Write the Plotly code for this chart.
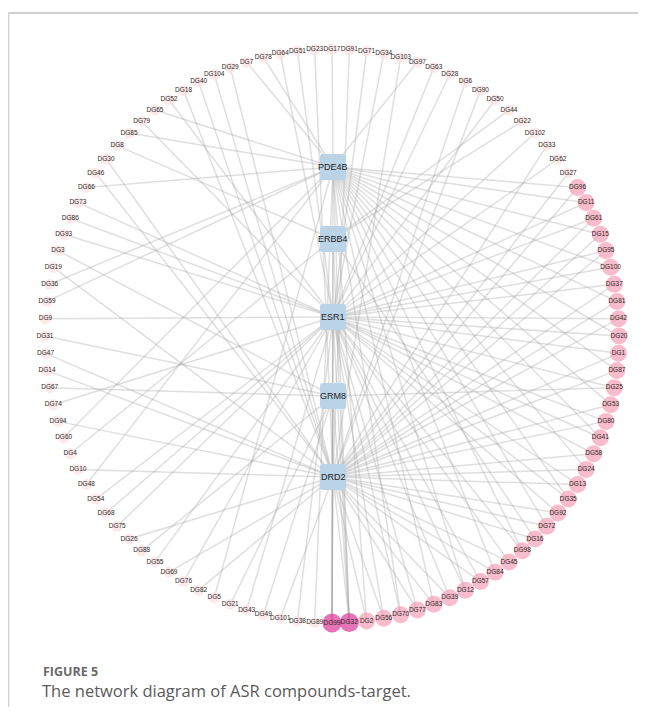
import numpy as np
import plotly.graph_objects as go

# ---------------- data ----------------
# compound nodes in circular order (counter-clockwise from the right side)
compounds = ["DG102","DG33","DG62","DG27","DG96","DG11","DG61","DG15","DG95","DG100",
             "DG37","DG81","DG42","DG20","DG1","DG87","DG25","DG53","DG80","DG41",
             "DG58","DG24","DG13","DG35","DG92","DG72","DG16","DG98","DG45","DG84",
             "DG57","DG12","DG39","DG83","DG77","DG70","DG56","DG2","DG32","DG99",
             "DG89","DG38","DG101","DG49","DG43","DG21","DG5","DG82","DG76","DG69",
             "DG55","DG88","DG26","DG75","DG68","DG54","DG48","DG10","DG4","DG60",
             "DG94","DG74","DG67","DG14","DG47","DG31","DG9","DG59","DG36","DG19",
             "DG3","DG93","DG86","DG73","DG66","DG46","DG30","DG8","DG85","DG79",
             "DG65","DG52","DG18","DG40","DG104","DG29","DG7","DG78","DG64","DG51",
             "DG23","DG17","DG91","DG71","DG34","DG103","DG97","DG63","DG28","DG6",
             "DG90","DG50","DG44","DG22"]

targets = ["PDE4B", "ERBB4", "ESR1", "GRM8", "DRD2"]

links = {
    "DG22": ["ERBB4"], "DG44": ["ERBB4"], "DG102": ["ESR1"], "DG33": ["DRD2"],
    "DG62": ["ESR1"], "DG27": ["DRD2"], "DG50": ["ESR1"], "DG90": ["DRD2"],
    "DG6": ["DRD2"], "DG28": ["ESR1"], "DG63": ["ESR1"], "DG97": ["PDE4B"],
    "DG103": ["DRD2"], "DG34": ["ESR1"], "DG71": ["ESR1"], "DG91": ["DRD2"],
    "DG17": ["PDE4B"], "DG23": ["DRD2"], "DG51": ["ESR1"], "DG64": ["ESR1"],
    "DG78": ["PDE4B"], "DG7": ["PDE4B"], "DG29": ["DRD2"], "DG104": ["DRD2"],
    "DG40": ["DRD2"], "DG18": ["DRD2"], "DG52": ["ESR1"], "DG65": ["PDE4B"],
    "DG79": ["ESR1"], "DG85": ["PDE4B"], "DG8": ["ERBB4"], "DG30": ["DRD2"],
    "DG46": ["DRD2"], "DG66": ["PDE4B"], "DG73": ["ESR1"], "DG86": ["ESR1"],
    "DG93": ["ESR1"], "DG3": ["GRM8"], "DG19": ["DRD2"], "DG36": ["PDE4B"],
    "DG59": ["PDE4B"], "DG9": ["ESR1"], "DG31": ["GRM8"], "DG47": ["DRD2"],
    "DG14": ["DRD2"], "DG67": ["GRM8"], "DG74": ["ESR1"], "DG94": ["DRD2"],
    "DG60": ["PDE4B"], "DG4": ["ERBB4"], "DG10": ["DRD2"], "DG48": ["PDE4B"],
    "DG54": ["ESR1"], "DG68": ["ESR1"], "DG75": ["ESR1"], "DG26": ["DRD2"],
    "DG88": ["GRM8"], "DG55": ["ESR1"], "DG69": ["DRD2"], "DG76": ["ESR1"],
    "DG82": ["DRD2"], "DG5": ["PDE4B"], "DG21": ["GRM8"], "DG43": ["ESR1"],
    "DG49": ["GRM8"], "DG101": ["DRD2"], "DG38": ["ESR1"], "DG89": ["PDE4B"],
    "DG96": ["PDE4B", "DRD2"], "DG11": ["PDE4B", "ESR1"], "DG61": ["ESR1", "DRD2"],
    "DG15": ["PDE4B", "DRD2"], "DG95": ["ESR1", "DRD2"], "DG100": ["PDE4B", "ESR1"],
    "DG37": ["ESR1", "DRD2"], "DG81": ["PDE4B", "DRD2"], "DG42": ["ESR1", "DRD2"],
    "DG20": ["PDE4B", "ESR1"], "DG1": ["ESR1", "DRD2"], "DG87": ["PDE4B", "DRD2"],
    "DG25": ["ESR1", "GRM8"], "DG53": ["PDE4B", "DRD2"], "DG80": ["ESR1", "DRD2"],
    "DG41": ["PDE4B", "ESR1"], "DG58": ["ESR1", "DRD2"], "DG24": ["PDE4B", "DRD2"],
    "DG13": ["ESR1", "DRD2"], "DG35": ["PDE4B", "ESR1"], "DG92": ["ESR1", "DRD2"],
    "DG72": ["PDE4B", "DRD2"], "DG16": ["ERBB4", "DRD2"], "DG98": ["PDE4B", "ESR1"],
    "DG45": ["ESR1", "DRD2"], "DG84": ["PDE4B", "DRD2"], "DG57": ["ESR1", "DRD2"],
    "DG12": ["PDE4B", "ESR1"], "DG39": ["ESR1", "DRD2"], "DG83": ["PDE4B", "DRD2"],
    "DG77": ["ESR1", "DRD2"], "DG70": ["PDE4B", "ESR1"], "DG56": ["ESR1", "DRD2"],
    "DG2": ["PDE4B", "DRD2"],
    "DG32": ["PDE4B", "ERBB4", "ESR1", "GRM8", "DRD2"],
    "DG99": ["PDE4B", "ERBB4", "ESR1", "GRM8", "DRD2"],
}

caption_label = "FIGURE 5"
caption_text = "The network diagram of ASR compounds-target."

# ---------------- layout (page pixel coordinates) ----------------
CX, CY, R = 332.0, 336.0, 287.0
RIGHT_INDEX = 13
TARGET_X = 333.0
TARGET_Y = {"PDE4B": 167, "ERBB4": 239, "ESR1": 317, "GRM8": 396, "DRD2": 477}

n = len(compounds)
ang = np.deg2rad((RIGHT_INDEX - np.arange(n)) * 360.0 / n)
px = CX + R * np.cos(ang)
py = CY - R * np.sin(ang)
pos = {c: (px[i], py[i]) for i, c in enumerate(compounds)}

ex, ey = [], []
for c in compounds:
    for t in links[c]:
        x0, y0 = pos[c]
        ex += [x0, TARGET_X, None]
        ey += [y0, TARGET_Y[t], None]

deg = np.array([len(links[c]) for c in compounds])
col_map = {1: "#fde0e1", 2: "#f6a0b7"}
size_map = {1: 11, 2: 17}
colors = [col_map.get(d, "#dc3795") for d in deg]
sizes = [size_map.get(d, 19) for d in deg]

fig = go.Figure()
fig.add_trace(go.Scatter(x=ex, y=ey, mode="lines",
                         line=dict(color="rgba(165,165,165,0.36)", width=1.5),
                         hoverinfo="skip"))
fig.add_trace(go.Scatter(x=px, y=py, mode="markers+text", text=compounds,
                         textposition="middle center",
                         textfont=dict(size=6.5, color="#2a2a2a", family="Liberation Sans"),
                         marker=dict(color=colors, size=sizes, line=dict(width=0))))

# target boxes (rounded squares)
shapes = []
half, rr = 13.0, 3.0
for t in targets:
    x0, x1 = TARGET_X - half, TARGET_X + half
    y0, y1 = TARGET_Y[t] - half, TARGET_Y[t] + half
    path = (f"M {x0+rr},{y0} L {x1-rr},{y0} Q {x1},{y0} {x1},{y0+rr} "
            f"L {x1},{y1-rr} Q {x1},{y1} {x1-rr},{y1} L {x0+rr},{y1} "
            f"Q {x0},{y1} {x0},{y1-rr} L {x0},{y0+rr} Q {x0},{y0} {x0+rr},{y0} Z")
    shapes.append(dict(type="path", path=path, xref="x", yref="y",
                       fillcolor="#bad3e6", line=dict(width=0), layer="above"))

# frame lines
shapes.append(dict(type="line", xref="x", yref="y", x0=8.5, x1=646, y0=13, y1=13,
                   line=dict(color="#cfcfcf", width=2)))
shapes.append(dict(type="line", xref="x", yref="y", x0=8.5, x1=8.5, y0=13, y1=715,
                   line=dict(color="#cfcfcf", width=1.5)))

annotations = []
for t in targets:
    annotations.append(dict(x=TARGET_X, y=TARGET_Y[t], text=t, showarrow=False,
                            xref="x", yref="y",
                            font=dict(size=9, color="#1e1e1e", family="Liberation Sans")))
annotations.append(dict(x=41, y=671, text=f"<b>{caption_label}</b>", showarrow=False,
                        xref="x", yref="y", xanchor="left", yanchor="middle",
                        font=dict(size=12.5, color="#6a6a6a", family="Open Sans")))
annotations.append(dict(x=40, y=690, text=caption_text, showarrow=False,
                        xref="x", yref="y", xanchor="left", yanchor="middle",
                        font=dict(size=16.5, color="#5a5a5a", family="Open Sans")))

fig.update_layout(
    width=630, height=699,
    margin=dict(l=0, r=0, t=0, b=0, pad=0),
    paper_bgcolor="white", plot_bgcolor="white",
    showlegend=False,
    xaxis=dict(range=[8, 638], visible=False, fixedrange=True),
    yaxis=dict(range=[707, 8], visible=False, fixedrange=True),
    shapes=shapes, annotations=annotations,
)
fig.write_html("out.html")
